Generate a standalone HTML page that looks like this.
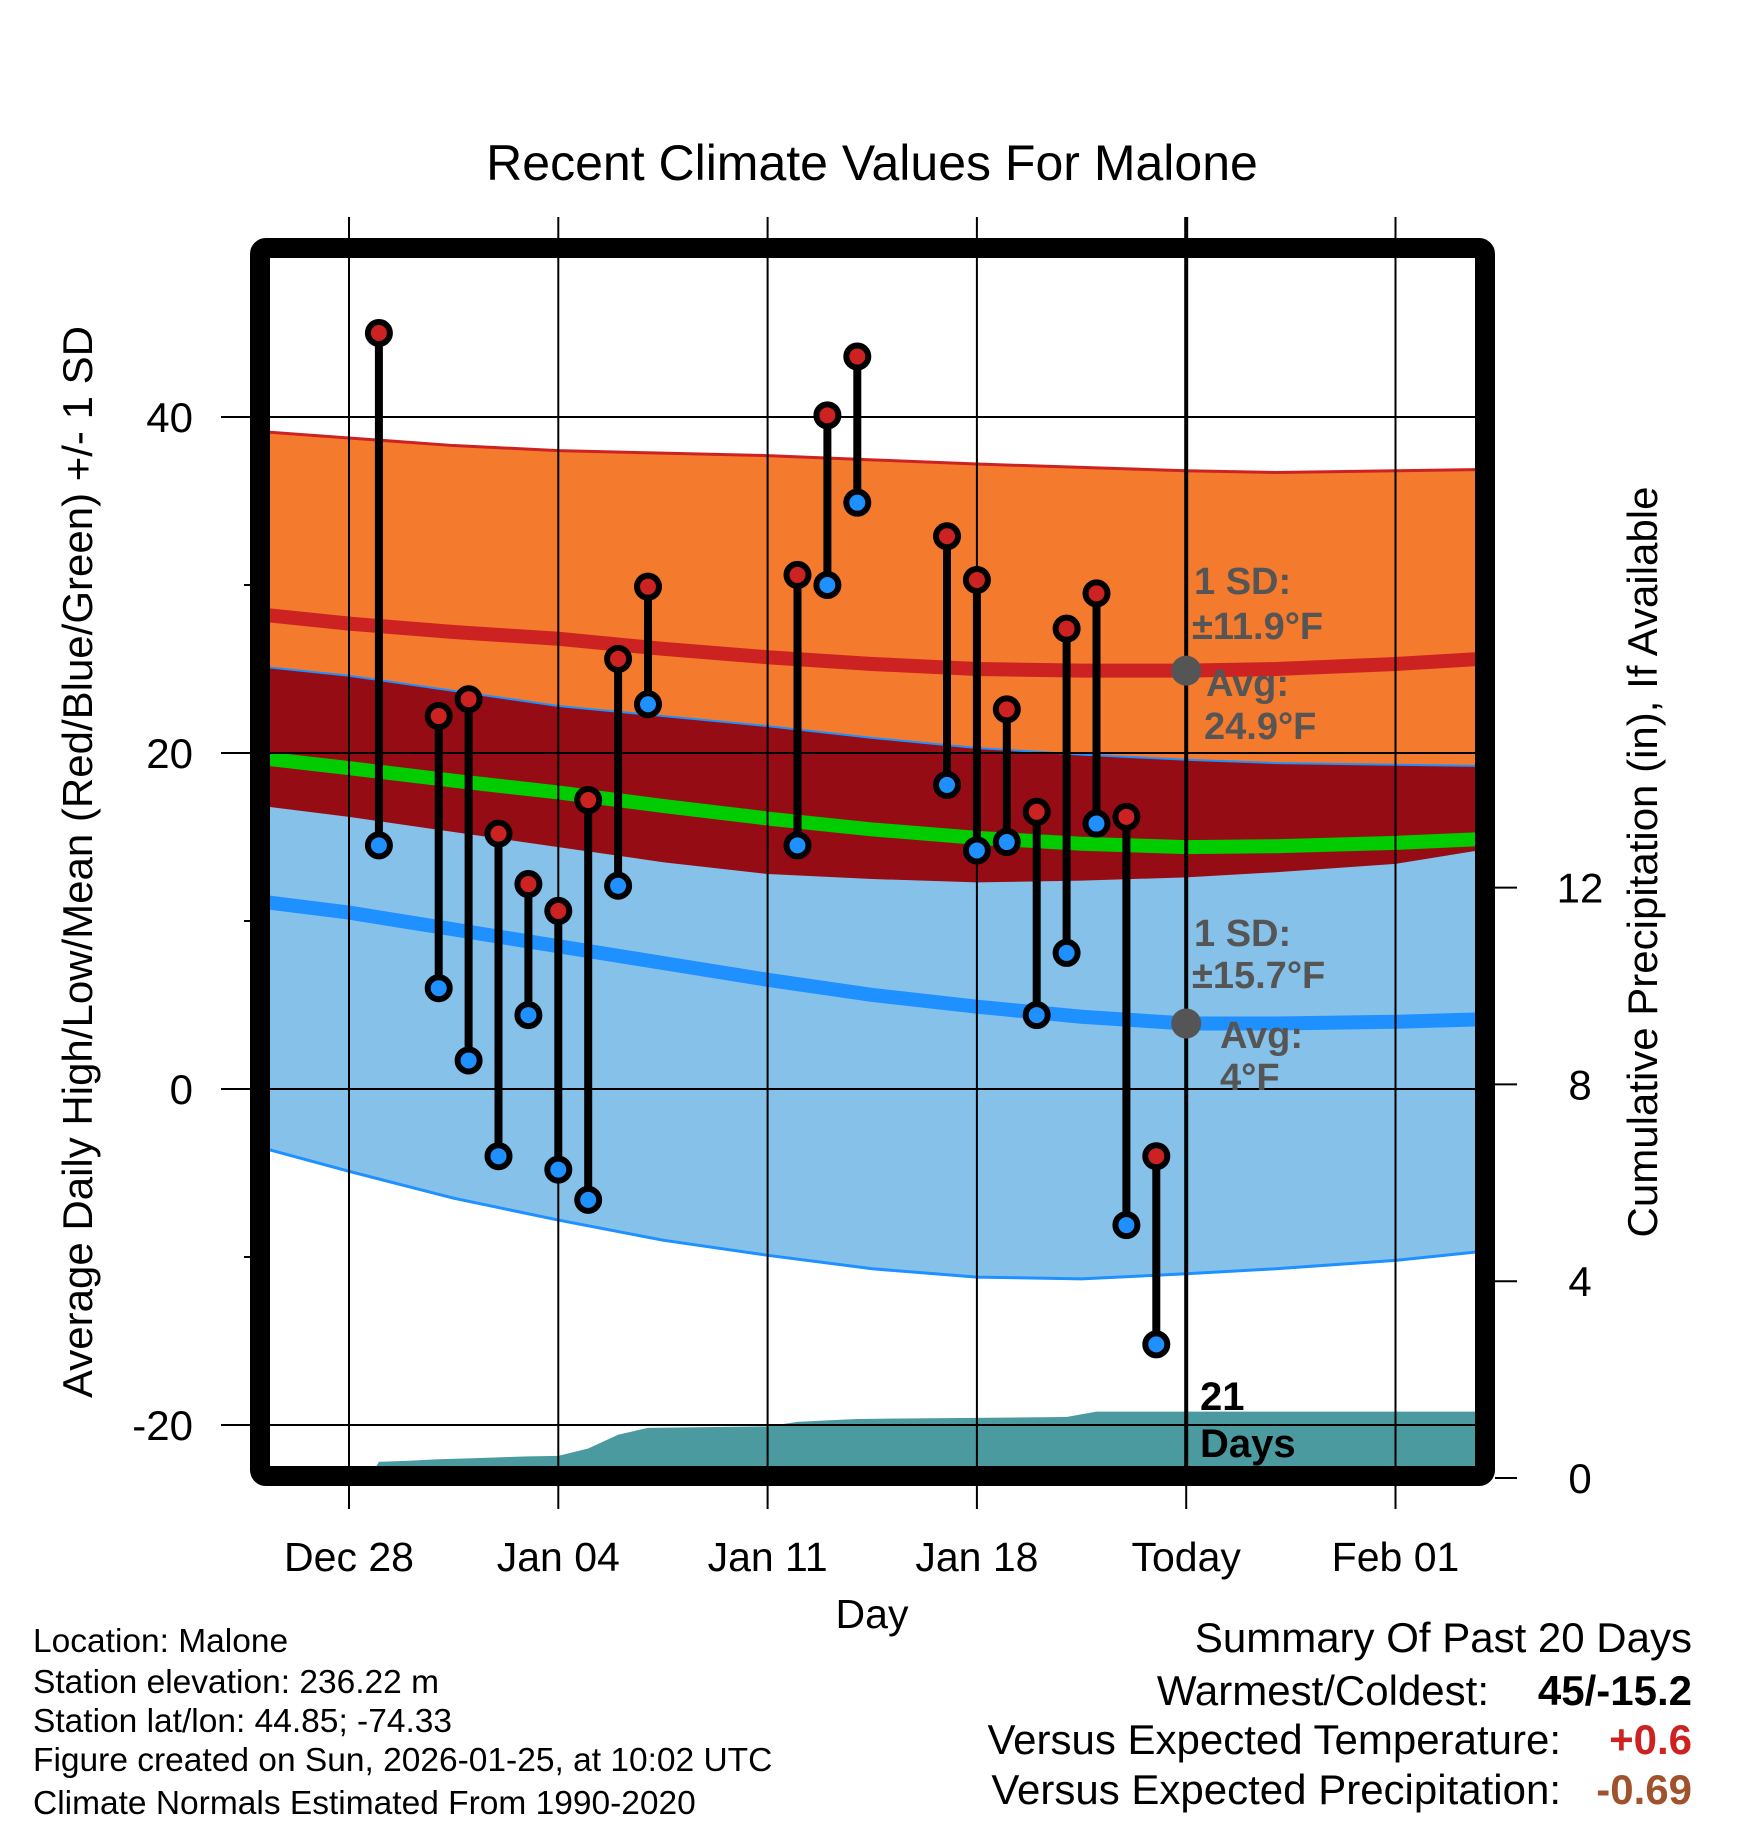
<!DOCTYPE html>
<html><head><meta charset="utf-8">
<style>
html,body{margin:0;padding:0;background:#fff;}
svg{display:block;font-family:"Liberation Sans",Arial,sans-serif;}
</style></head>
<body>
<svg id="chart" width="1748" height="1828" viewBox="0 0 1748 1828" xmlns="http://www.w3.org/2000/svg">
<defs><clipPath id="plotclip"><rect x="270" y="258" width="1205" height="1208"/></clipPath></defs>
<g id="bands" clip-path="url(#plotclip)"></g>
<g id="grid"></g>
<g id="marks"></g>
<rect x="260" y="248" width="1225" height="1228" rx="6" fill="none" stroke="#000" stroke-width="20"/>
<text x="872" y="180" font-size="50" text-anchor="middle">Recent Climate Values For Malone</text>
<text x="872" y="1628" font-size="41" text-anchor="middle">Day</text>
<text transform="translate(92,862) rotate(-90)" font-size="42" text-anchor="middle">Average Daily High/Low/Mean (Red/Blue/Green) +/- 1 SD</text>
<text transform="translate(1657,862) rotate(-90)" font-size="42" text-anchor="middle">Cumulative Precipitation (in), If Available</text>
<g font-weight="bold" fill="#555" font-size="38">
<text x="1194" y="594">1 SD:</text>
<text x="1192" y="639">±11.9°F</text>
<text x="1206" y="696">Avg:</text>
<text x="1204" y="739">24.9°F</text>
<text x="1194" y="946">1 SD:</text>
<text x="1192" y="988">±15.7°F</text>
<text x="1220" y="1048">Avg:</text>
<text x="1220" y="1090">4°F</text>
</g>
<text x="1200" y="1410" font-size="40" font-weight="bold">21</text>
<text x="1200" y="1457" font-size="40" font-weight="bold">Days</text>
<g font-size="33.5">
<text x="33" y="1652">Location: Malone</text>
<text x="33" y="1693">Station elevation: 236.22 m</text>
<text x="33" y="1732">Station lat/lon: 44.85; -74.33</text>
<text x="33" y="1771">Figure created on Sun, 2026-01-25, at 10:02 UTC</text>
<text x="33" y="1814">Climate Normals Estimated From 1990-2020</text>
</g>
<g font-size="42">
<text x="1692" y="1652" text-anchor="end">Summary Of Past 20 Days</text>
<text x="1489" y="1705" text-anchor="end">Warmest/Coldest:</text>
<text x="1692" y="1705" text-anchor="end" font-weight="bold">45/-15.2</text>
<text x="1561" y="1754" text-anchor="end">Versus Expected Temperature:</text>
<text x="1692" y="1754" text-anchor="end" font-weight="bold" fill="#cc2222">+0.6</text>
<text x="1561" y="1804" text-anchor="end">Versus Expected Precipitation:</text>
<text x="1692" y="1804" text-anchor="end" font-weight="bold" fill="#a0522d">-0.69</text>
</g>
</svg>
<script>
// days are relative to Dec 28 (=0); Today = Jan 25 = 28
const obsDays = [1,3,4,5,6,7,8,9,10,15,16,17,20,21,22,23,24,25,26,27];
const highs = [45,22.2,23.2,15.2,12.2,10.6,17.2,25.6,29.9,30.6,40.1,43.6,32.9,30.3,22.6,16.5,27.4,29.5,16.2,-4.0];
const lows  = [14.5,6.0,1.7,-4.0,4.4,-4.8,-6.6,12.1,22.9,14.5,30.0,34.9,18.1,14.2,14.7,4.4,8.1,15.8,-8.1,-15.2];
const normDays  = [-2.7,0,3.5,7,10.5,14,17.5,21,24.5,28,31,35,38.8];
const highMean  = [28.2,27.7,27.2,26.8,26.2,25.7,25.3,25.0,24.9,24.9,25.0,25.3,25.7];
const highUpper = [39.1,38.75,38.3,38.0,37.85,37.7,37.45,37.2,37.0,36.8,36.7,36.8,36.9];
const highLower = [16.8,16.2,15.3,14.4,13.5,12.8,12.5,12.3,12.4,12.6,12.9,13.4,14.5];
const lowMean   = [11.1,10.5,9.5,8.5,7.5,6.5,5.6,4.9,4.3,3.9,3.9,4.0,4.2];
const lowUpper  = [25.1,24.6,23.7,22.8,22.2,21.6,20.9,20.3,19.9,19.6,19.4,19.3,19.2];
const lowLower  = [-3.6,-4.9,-6.5,-7.8,-9.0,-9.9,-10.7,-11.2,-11.3,-11.0,-10.7,-10.2,-9.5];
const precipDays = [0.7,1,2,3,4,5,6,7,8,9,10,14,15,16,17,24,25,26,27,28,38.8];
const precipCum  = [0,0.33,0.35,0.38,0.40,0.42,0.44,0.45,0.60,0.88,1.02,1.05,1.14,1.17,1.20,1.24,1.35,1.35,1.35,1.35,1.35];
const xTickDays = [0,7,14,21,28,35];
const xTickLabels = ["Dec 28","Jan 04","Jan 11","Jan 18","Today","Feb 01"];
const yTicks = [40,20,0,-20];
const yMinor = [30,10,-10];
const y2Ticks = [0,4,8,12];

const X = d => 349 + d*29.9;
const Y = t => 1089 - t*16.8;
const Y2 = p => 1478 - p*49.2;
const NS = "http://www.w3.org/2000/svg";
function mk(tag, parent, attrs){const e=document.createElementNS(NS,tag);for(const k in attrs)e.setAttribute(k,attrs[k]);parent.appendChild(e);return e;}
const bands=document.getElementById('bands'), grid=document.getElementById('grid'), marks=document.getElementById('marks');

function linePts(arr){return normDays.map((d,i)=>X(d)+','+Y(arr[i])).join(' ');}
function bandPts(up,lo){return linePts(up)+' '+normDays.map((d,i)=>X(d)+','+Y(lo[i])).reverse().join(' ');}
const midMean = highMean.map((h,i)=>(h+lowMean[i])/2);

let e;
e=mk('polygon',bands,{points:bandPts(highUpper,highLower),fill:'#f47a2e'});


e=mk('polygon',bands,{points:bandPts(lowUpper,lowLower),fill:'#85c1e9'});


e=mk('polygon',bands,{points:bandPts(lowUpper,highLower),fill:'#960c14'});


e=mk('polyline',bands,{points:linePts(highUpper),fill:'none',stroke:'#cc2222',"stroke-width":3});


e=mk('polyline',bands,{points:linePts(lowUpper),fill:'none',stroke:'#1e90ff',"stroke-width":2});


e=mk('polyline',bands,{points:linePts(lowLower),fill:'none',stroke:'#1e90ff',"stroke-width":3});


e=mk('polyline',bands,{points:linePts(highMean),fill:'none',stroke:'#cc2222',"stroke-width":14});


e=mk('polyline',bands,{points:linePts(lowMean),fill:'none',stroke:'#1e90ff',"stroke-width":14});


e=mk('polyline',bands,{points:linePts(midMean),fill:'none',stroke:'#00cc00',"stroke-width":14});


let pp=precipDays.map((d,i)=>X(d)+','+Y2(precipCum[i])).join(' ');
pp+=' '+X(precipDays[precipDays.length-1])+','+Y2(-1)+' '+X(precipDays[0])+','+Y2(-1);
e=mk('polygon',bands,{points:pp,fill:'#4a9aa0'});



yTicks.forEach(t=>{
  e=mk('line',grid,{x1:221,x2:1478,y1:Y(t),y2:Y(t),stroke:'#000',"stroke-width":2});
  
  
  e=mk('text',grid,{x:193,y:Y(t)+15,"font-size":42,"text-anchor":"end"});
  e.textContent=t;
  
  
});
yMinor.forEach(t=>{
  e=mk('line',grid,{x1:244,x2:262,y1:Y(t),y2:Y(t),stroke:'#000',"stroke-width":2});
  
  
});
y2Ticks.forEach(p=>{
  e=mk('line',grid,{x1:1495,x2:1517,y1:Y2(p),y2:Y2(p),stroke:'#000',"stroke-width":2});
  
  
  e=mk('text',grid,{x:1580,y:Y2(p)+15,"font-size":42,"text-anchor":"middle"});
  e.textContent=p;
  
  
});
xTickDays.forEach((d,i)=>{
  e=mk('line',grid,{x1:X(d),x2:X(d),y1:217,y2:1509,stroke:'#000',"stroke-width":2});
  
  
  e=mk('text',grid,{x:X(d),y:1571,"font-size":41,"text-anchor":"middle"});
  e.textContent=xTickLabels[i];
  
  
});
e=mk('line',grid,{x1:X(28),x2:X(28),y1:217,y2:1470,stroke:'#000',"stroke-width":4});



obsDays.forEach((d,i)=>{
  e=mk('line',marks,{x1:X(d),x2:X(d),y1:Y(highs[i]),y2:Y(lows[i]),stroke:'#000',"stroke-width":8});
  
  
  e=mk('circle',marks,{cx:X(d),cy:Y(highs[i]),r:11,fill:'#cc2222',stroke:'#000',"stroke-width":6});
  
  
  e=mk('circle',marks,{cx:X(d),cy:Y(lows[i]),r:11,fill:'#1e90ff',stroke:'#000',"stroke-width":6});
  
  
});
e=mk('circle',marks,{cx:X(28),cy:Y(highMean[9]),r:15,fill:'#555'});


e=mk('circle',marks,{cx:X(28),cy:Y(lowMean[9]),r:15,fill:'#555'});


</script>
</body></html>
